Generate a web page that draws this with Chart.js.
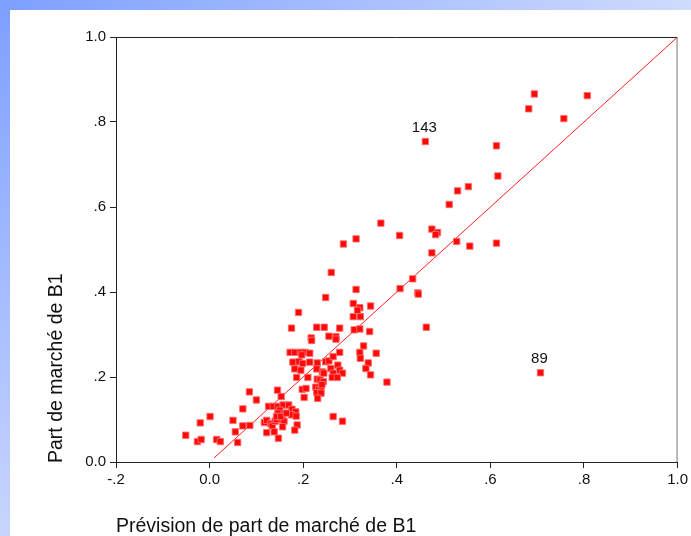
<!DOCTYPE html>
<html>
<head>
<meta charset="utf-8">
<script src="https://cdn.jsdelivr.net/npm/chart.js@4.4.1/dist/chart.umd.min.js"></script>
<style>
  html, body { margin: 0; padding: 0; background: #fff; }
  #wrap { position: relative; width: 691px; height: 536px; overflow: hidden; background: #fff; }
  #topband { position: absolute; left: 0; top: 0; width: 691px; height: 10px;
             background: linear-gradient(to right, #7d9fff, #cfdbff); }
  #leftband { position: absolute; left: 0; top: 0; width: 10px; height: 536px;
              background: linear-gradient(to bottom, #7d9fff, #c8d5ff); }
  #chart { position: absolute; left: 0; top: 0; }
</style>
</head>
<body>
<div id="wrap">
  <div id="topband"></div>
  <div id="leftband"></div>
  <canvas id="chart" width="691" height="536"></canvas>
</div>
<script>
// Predicted vs. observed market share of brand B1, one entry per case
const predictedShare = [
  0.694, 0.807, 0.682, 0.757, 0.461, 0.613, 0.616, 0.530, 0.553, 0.512,
  0.366, 0.475, 0.487, 0.483, 0.406, 0.313, 0.528, 0.613, 0.286, 0.556,
  0.475, 0.260, 0.434, 0.407, 0.313, 0.445, 0.446, 0.248, 0.307, 0.344,
  0.321, 0.316, 0.190, 0.307, 0.322, 0.463, 0.175, 0.229, 0.245, 0.278,
  0.309, 0.321, 0.342, 0.217, 0.218, 0.255, 0.270, 0.270, 0.329, 0.172,
  0.182, 0.194, 0.204, 0.214, 0.197, 0.278, 0.321, 0.356, 0.178, 0.191,
  0.199, 0.214, 0.230, 0.248, 0.255, 0.264, 0.322, 0.339, 0.182, 0.195,
  0.229, 0.241, 0.244, 0.259, 0.264, 0.274, 0.278, 0.284, 0.334, 0.186,
  0.210, 0.230, 0.236, 0.243, 0.262, 0.273, 0.344, 0.379, 0.707, 0.145,
  0.153, 0.198, 0.206, 0.227, 0.233, 0.238, 0.229, 0.238, 0.202, 0.231,
  0.240, 0.126, 0.136, 0.146, 0.157, 0.169, 0.176, 0.184, 0.175, 0.185,
  0.117, 0.122, 0.131, 0.134, 0.140, 0.143, 0.155, 0.159, 0.156, 0.187,
  0.182, 0.122, 0.138, 0.147, 0.150, 0.146, 0.143, 0.152, 0.164, 0.264,
  0.284, -0.051, -0.026, -0.018, -0.020, 0.001, 0.015, 0.023, 0.050, 0.055,
  0.060, 0.071, 0.071, 0.086, 0.085, 0.100
];
const actualShare = [
  0.866, 0.862, 0.831, 0.808, 0.754, 0.744, 0.673, 0.638, 0.648, 0.606,
  0.562, 0.548, 0.540, 0.535, 0.533, 0.525, 0.519, 0.515, 0.513, 0.508,
  0.492, 0.446, 0.431, 0.408, 0.406, 0.398, 0.395, 0.387, 0.373, 0.367,
  0.363, 0.357, 0.352, 0.342, 0.342, 0.317, 0.315, 0.317, 0.317, 0.315,
  0.311, 0.313, 0.307, 0.292, 0.286, 0.296, 0.295, 0.289, 0.273, 0.258,
  0.258, 0.258, 0.258, 0.256, 0.252, 0.258, 0.258, 0.256, 0.235, 0.236,
  0.232, 0.235, 0.233, 0.236, 0.238, 0.248, 0.244, 0.233, 0.219, 0.216,
  0.219, 0.212, 0.209, 0.220, 0.209, 0.228, 0.216, 0.209, 0.220, 0.199,
  0.199, 0.195, 0.193, 0.189, 0.199, 0.199, 0.205, 0.188, 0.210, 0.169,
  0.154, 0.171, 0.173, 0.176, 0.171, 0.168, 0.163, 0.162, 0.152, 0.150,
  0.182, 0.131, 0.131, 0.131, 0.134, 0.134, 0.124, 0.118, 0.111, 0.108,
  0.093, 0.098, 0.090, 0.085, 0.096, 0.100, 0.100, 0.096, 0.083, 0.087,
  0.075, 0.069, 0.071, 0.056, 0.122, 0.115, 0.107, 0.107, 0.115, 0.107,
  0.096, 0.063, 0.048, 0.053, 0.092, 0.107, 0.053, 0.048, 0.098, 0.071,
  0.046, 0.125, 0.085, 0.086, 0.165, 0.146
];

// Case numbers printed next to two outlying points (index into the arrays above)
const caseIndex = [4, 88];
const caseNumber = ['143', '89'];

// Reference line y = x
const identityX = [0.01, 1.0];
const identityY = [0.01, 1.0];

// Axis ticks and their printed labels
const xTickValues = [-0.2, 0.0, 0.2, 0.4, 0.6, 0.8, 1.0];
const xTickLabels = ['-.2', '0.0', '.2', '.4', '.6', '.8', '1.0'];
const yTickValues = [0.0, 0.2, 0.4, 0.6, 0.8, 1.0];
const yTickLabels = ['0.0', '.2', '.4', '.6', '.8', '1.0'];

const xTitle = 'Prévision de part de marché de B1';
const yTitle = 'Part de marché de B1';

const FONT = "'Liberation Sans', Arial, sans-serif";

const scatterPoints = predictedShare.map((x, i) => ({ x: x, y: actualShare[i] }));
const identityPoints = identityX.map((x, i) => ({ x: x, y: identityY[i] }));

// Frame, axis titles and case numbers
const decorations = {
  id: 'decorations',
  afterDraw(chart) {
    const ctx = chart.ctx;
    const a = chart.chartArea;
    const xs = chart.scales.x, ys = chart.scales.y;
    ctx.save();
    // top and right edges of the plot frame
    ctx.lineWidth = 1;
    ctx.strokeStyle = '#222';
    ctx.beginPath();
    ctx.moveTo(a.left, a.top + 0.5);
    ctx.lineTo(a.right, a.top + 0.5);
    ctx.stroke();
    ctx.strokeStyle = '#777';
    ctx.beginPath();
    ctx.moveTo(a.right - 0.5, a.top);
    ctx.lineTo(a.right - 0.5, a.bottom);
    ctx.stroke();

    // case numbers above their points
    ctx.fillStyle = '#111';
    ctx.font = '15px ' + FONT;
    ctx.textAlign = 'center';
    ctx.textBaseline = 'alphabetic';
    caseIndex.forEach((idx, k) => {
      const px = xs.getPixelForValue(predictedShare[idx]);
      const py = ys.getPixelForValue(actualShare[idx]);
      ctx.fillText(caseNumber[k], px - 1, py - 10);
    });

    // axis titles
    ctx.font = '19.5px ' + FONT;
    ctx.textAlign = 'left';
    ctx.fillText(xTitle, a.left, 532);
    ctx.translate(62, a.bottom + 1);
    ctx.rotate(-Math.PI / 2);
    ctx.fillText(yTitle, 0, 0);
    ctx.restore();
  }
};

new Chart(document.getElementById('chart'), {
  type: 'scatter',
  data: {
    datasets: [
      {
        data: scatterPoints,
        pointStyle: 'rect',
        pointRadius: 4.5,
        pointHoverRadius: 4.5,
        backgroundColor: '#ff0808',
        borderColor: 'rgba(255,110,110,0.9)',
        borderWidth: 1
      },
      {
        type: 'line',
        data: identityPoints,
        borderColor: '#ff2020',
        borderWidth: 1,
        pointRadius: 0,
        fill: false
      }
    ]
  },
  options: {
    responsive: false,
    animation: false,
    events: [],
    layout: { padding: { left: 0, top: 37, right: 13, bottom: 0 } },
    plugins: { legend: { display: false }, tooltip: { enabled: false } },
    scales: {
      x: {
        type: 'linear',
        min: -0.2,
        max: 1.0,
        afterBuildTicks: s => { s.ticks = xTickValues.map(v => ({ value: v })); },
        afterFit: s => { s.height = 74; },
        ticks: {
          callback: (v, i) => xTickLabels[i],
          font: { family: FONT, size: 15 },
          color: '#111',
          padding: 3,
          maxRotation: 0,
          autoSkip: false
        },
        grid: { drawOnChartArea: false, drawTicks: true, tickLength: 6, color: '#222' },
        border: { color: '#222', width: 1 }
      },
      y: {
        type: 'linear',
        min: 0,
        max: 1.0,
        afterBuildTicks: s => { s.ticks = yTickValues.map(v => ({ value: v })); },
        afterFit: s => { s.width = 116; },
        ticks: {
          callback: (v, i) => yTickLabels[i],
          font: { family: FONT, size: 15 },
          color: '#111',
          padding: 4,
          autoSkip: false
        },
        grid: { drawOnChartArea: false, drawTicks: true, tickLength: 6, color: '#222' },
        border: { color: '#222', width: 1 }
      }
    }
  },
  plugins: [decorations]
});
</script>
</body>
</html>
